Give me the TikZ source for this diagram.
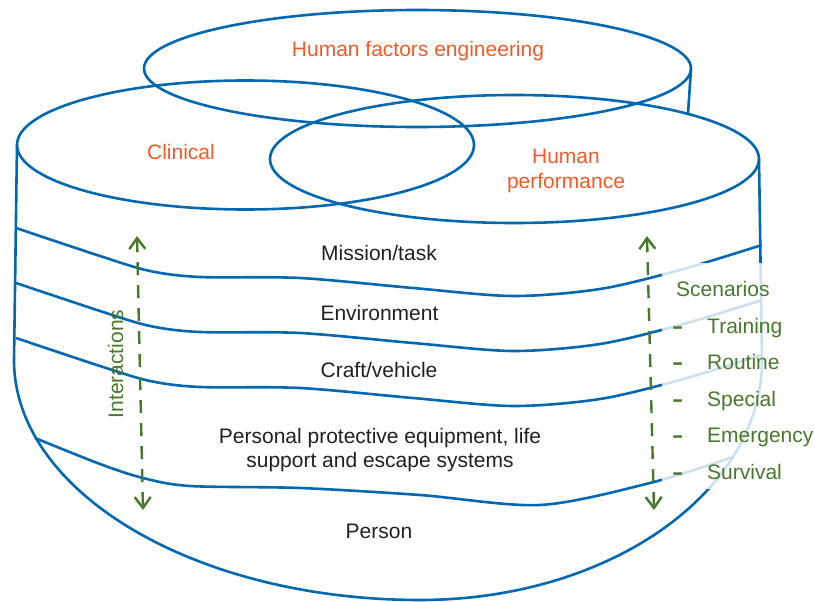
\documentclass[tikz,border=0pt]{standalone}
\usepackage{fontspec}
\setmainfont{Liberation Sans}
\usetikzlibrary{shapes.geometric,arrows.meta}
\definecolor{shellblue}{RGB}{0,103,177}
\definecolor{fieldorange}{RGB}{241,90,41}
\definecolor{scengreen}{RGB}{72,120,46}
\definecolor{layerink}{RGB}{35,31,32}
\newcommand{\scendash}{\scalebox{1.6}[1]{\bfseries -}}
\begin{document}
\begin{tikzpicture}[x=1pt, y=1pt,
    every node/.style={font=\fontsize{21}{26}\selectfont, inner sep=0pt},
    shell/.style={draw=shellblue, line width=2.6pt},
    field/.style={shell, ellipse, inner sep=0pt, outer sep=0pt},
    fieldname/.style={text=fieldorange, align=center, anchor=base},
    layername/.style={text=layerink, align=center, anchor=base},
    scenario/.style={text=scengreen, anchor=base west},
    interaction/.style={draw=scengreen, line width=2.4pt, dash pattern=on 13pt off 10pt,
        {Straight Barb[length=11pt,width=16pt]}-{Straight Barb[length=11pt,width=16pt]}}]
    \useasboundingbox (0,0) rectangle (815,-602);
    \node[field, minimum width=547pt, minimum height=117pt] (hfe) at (417.5,-68.5) {};
    \node[field, minimum width=457pt, minimum height=129pt] (clin) at (245.5,-145) {};
    \node[field, minimum width=489pt, minimum height=128pt] (perf) at (514.5,-159) {};
    \coordinate (hfefoot) at (688,-114);
    \draw[shell] (hfe.east) -- (hfefoot);
    \draw[shell] (clin.west) -- (14,-360)
        arc[start angle=180, end angle=270, x radius=406, y radius=240]
        arc[start angle=270, end angle=360, x radius=342, y radius=240] -- (perf.east);
    \begin{scope}[yshift=0pt]
    \draw[shell] plot[smooth] coordinates {(16,-228) (100,-256) (150,-271) (200,-277) (300,-278)
        (413,-288) (513,-296) (600,-289) (680,-270) (762,-245)};
    \end{scope}
    \begin{scope}[yshift=-55pt]
    \draw[shell] plot[smooth] coordinates {(16,-228) (100,-256) (150,-271) (200,-277) (300,-278)
        (413,-288) (513,-296) (600,-289) (680,-270) (762,-245)};
    \end{scope}
    \begin{scope}[yshift=-110pt]
    \draw[shell] plot[smooth] coordinates {(16,-228) (100,-256) (150,-271) (200,-277) (300,-278)
        (413,-288) (513,-296) (600,-289) (680,-270) (762,-245)};
    \end{scope}
    \draw[shell] plot[smooth] coordinates {(35,-438) (100,-464) (143,-478) (190,-486) (300,-488)
        (420,-495) (540,-505) (650,-483) (733,-457)};
    \fill[white, opacity=0.8] (662,-263) rectangle (815,-489);
    \node[fieldname] (hfename) at (418,-57) {Human factors engineering};
    \node[fieldname] (clinname) at (181,-159) {Clinical};
    \node[fieldname] (perfname) at (566,-189) {Human\\performance};
    \node[layername] (mission) at (379,-260) {Mission/task};
    \node[layername] (environment) at (379.5,-320) {Environment};
    \node[layername] (craft) at (379,-377) {Craft/vehicle};
    \node[layername, font=\fontsize{21}{24}\selectfont] (ppe) at (380,-467)
        {Personal protective equipment, life\\support and escape systems};
    \node[layername] (person) at (379,-538) {Person};
    \coordinate (lefthi) at (137,-236);
    \coordinate (leftlo) at (143,-510);
    \coordinate (righthi) at (647,-236);
    \coordinate (rightlo) at (654,-510);
    \draw[interaction] (lefthi) -- (leftlo);
    \draw[interaction] (righthi) -- (rightlo);
    \node[text=scengreen, rotate=90, anchor=base] (interactions) at (123,-364) {Interactions};
    \node[scenario] (scenarios) at (676,-296) {Scenarios};
    \node[scenario] (trainingdash) at (672,-333) {\scendash};
    \node[scenario] (training) at (707,-333) {Training};
    \node[scenario] (routinedash) at (672,-369) {\scendash};
    \node[scenario] (routine) at (707,-369) {Routine};
    \node[scenario] (specialdash) at (672,-406) {\scendash};
    \node[scenario] (special) at (707,-406) {Special};
    \node[scenario] (emergencydash) at (672,-442) {\scendash};
    \node[scenario] (emergency) at (707,-442) {Emergency};
    \node[scenario] (survivaldash) at (672,-479) {\scendash};
    \node[scenario] (survival) at (707,-479) {Survival};
\end{tikzpicture}
\end{document}
